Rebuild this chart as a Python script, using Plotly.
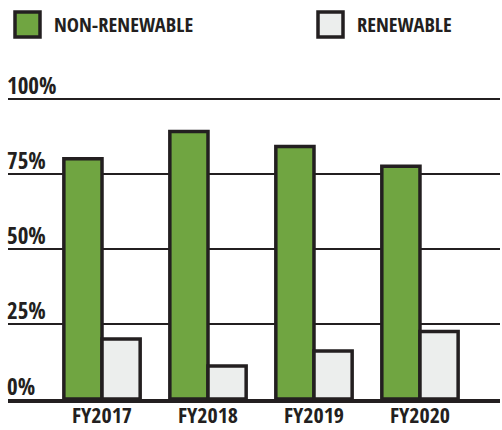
import plotly.graph_objects as go

categories = ["FY2017", "FY2018", "FY2019", "FY2020"]
non_renewable = [80, 89, 84, 77.5]
renewable = [20, 11, 16, 22.5]
y_ticks = [0, 25, 50, 75, 100]
y_tick_labels = ["0%", "25%", "50%", "75%", "100%"]
series_names = ["NON-RENEWABLE", "RENEWABLE"]

DARK = "#231f20"
GREEN = "#70a541"
LIGHT = "#eceeed"
FONT = "Open Sans Condensed, Roboto Condensed, sans-serif"

W, H = 502, 430
L, R, T, B = 8, 2, 70, 31
YMAX = 109.5
PW, PH = W - L - R, H - T - B


def px_to_paper_x(px):
    return (px - L) / PW


def px_to_paper_y(py):
    return (H - B - py) / PH


fig = go.Figure()
fig.add_trace(go.Bar(x=categories, y=non_renewable, name=series_names[0],
                     marker=dict(color=GREEN, line=dict(color=DARK, width=3.5))))
fig.add_trace(go.Bar(x=categories, y=renewable, name=series_names[1],
                     marker=dict(color=LIGHT, line=dict(color=DARK, width=3.5))))

# custom legend
legend_items = [(series_names[0], GREEN, 15, 55), (series_names[1], LIGHT, 318, 358)]
for name, col, sx, tx in legend_items:
    fig.add_shape(type="rect", xref="paper", yref="paper",
                  x0=px_to_paper_x(sx), x1=px_to_paper_x(sx + 25),
                  y0=px_to_paper_y(37), y1=px_to_paper_y(12),
                  fillcolor=col, line=dict(color=DARK, width=3.5))
    fig.add_annotation(text=name, xref="paper", yref="paper",
                       x=px_to_paper_x(tx - 3), y=px_to_paper_y(24.5),
                       xanchor="left", yanchor="middle", showarrow=False,
                       font=dict(family=FONT, size=20.5, color=DARK, weight="bold"))

# y tick labels sitting above their gridlines
for v, lab in zip(y_ticks, y_tick_labels):
    fig.add_annotation(text=lab, xref="paper", yref="y", x=0, y=v,
                       xanchor="left", yanchor="bottom", showarrow=False,
                       xshift=-3, yshift=-4.5,
                       font=dict(family=FONT, size=23, color=DARK, weight="bold"))

fig.update_layout(
    width=W, height=H,
    margin=dict(l=L, r=R, t=T, b=B),
    paper_bgcolor="white", plot_bgcolor="white",
    barmode="group", bargap=0.28, bargroupgap=0,
    showlegend=False,
    font=dict(family=FONT, color=DARK, size=21, weight="bold"),
)
fig.update_xaxes(range=[-0.887, 3.755], showgrid=False, showline=True,
                 linecolor=DARK, linewidth=4, ticks="", zeroline=False,
                 automargin=False, ticklabelstandoff=-6,
                 tickfont=dict(family=FONT, size=22, color=DARK, weight="bold"))
fig.update_yaxes(range=[0, YMAX], tickvals=y_ticks, showticklabels=False,
                 showgrid=True, gridcolor=DARK, gridwidth=1.6, zeroline=False,
                 ticks="", automargin=False)

fig.write_html("out.html", config={"displayModeBar": False},
               post_script="document.body.style.margin='0';")
